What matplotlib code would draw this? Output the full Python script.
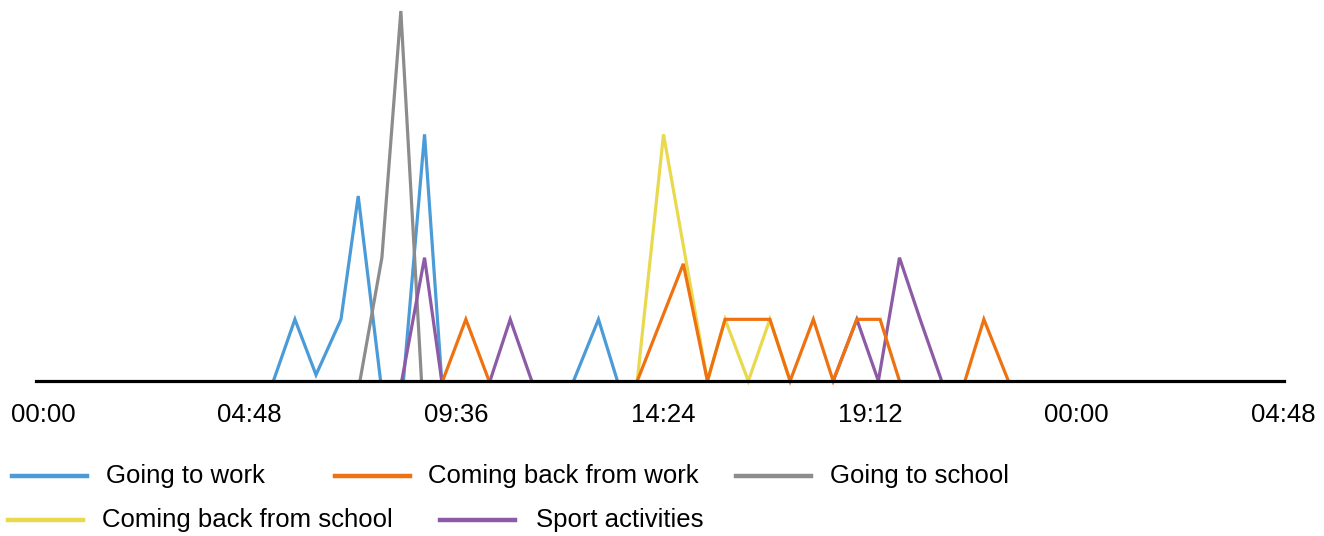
import matplotlib
matplotlib.use("Agg")
import matplotlib.pyplot as plt
from matplotlib.lines import Line2D
import numpy as np

plt.rcParams['font.family'] = ['Liberation Sans', 'DejaVu Sans']

# ---- data (time in hours, value) ----
work_t = [5.35, 5.85, 6.34, 6.92, 7.32, 7.84, 8.37, 8.86, 9.26, 12.32, 12.90, 13.34]
work_v = [0, 1, 0.1, 1, 3, 0, 0, 4, 0, 0, 1, 0]

back_work_t = [9.28, 9.82, 10.36, 13.80, 14.87, 15.43, 15.84, 16.88, 17.35, 17.89,
               18.35, 18.90, 19.44, 19.89, 21.41, 21.85, 22.42]
back_work_v = [0, 1, 0, 0, 1.9, 0, 1, 1, 0, 1, 0, 1, 1, 0, 0, 1, 0]

school_t = [7.36, 7.87, 8.31, 8.79]
school_v = [0, 2, 6, 0]

back_school_t = [13.80, 14.41, 15.43, 15.84, 16.38, 16.88, 17.35]
back_school_v = [0, 4, 0, 1, 0, 1, 0]

sport_t = [8.33, 8.86, 9.26, 10.38, 10.85, 11.35, 18.35, 18.90, 19.40, 19.89, 20.37, 20.87]
sport_v = [0, 2, 0, 0, 1, 0, 0, 1, 0, 2, 1, 0]

labels = ["Going to work", "Coming back from work", "Going to school",
          "Coming back from school", "Sport activities"]
tick_hours = [0, 4.8, 9.6, 14.4, 19.2, 24.0, 28.8]
tick_labels = ["00:00", "04:48", "09:36", "14:24", "19:12", "00:00", "04:48"]

colors = ["#4B9BD8", "#EF7211", "#8C8C8C", "#E8D94F", "#8D5BA6"]
series = [(work_t, work_v), (back_work_t, back_work_v), (school_t, school_v),
          (back_school_t, back_school_v), (sport_t, sport_v)]
zorders = [3, 7, 4, 5, 6]


def gapped(t, v):
    """Break the line where it runs along the zero baseline (hidden by the axis)."""
    xs, ys = [t[0]], [v[0]]
    for i in range(1, len(t)):
        if v[i] == 0 and v[i - 1] == 0:
            xs.append(np.nan)
            ys.append(np.nan)
        xs.append(t[i])
        ys.append(v[i])
    return xs, ys


W, H = 1324, 536
fig = plt.figure(figsize=(W / 100, H / 100), dpi=100)
ax = fig.add_axes([36 / W, 155 / H, (1284 - 36) / W, (381 - 11) / H])

for (t, v), c, z in zip(series, colors, zorders):
    xs, ys = gapped(t, v)
    ax.plot(xs, ys, color=c, lw=2.3, zorder=z, clip_on=False, solid_joinstyle='miter')

ax.set_xlim(-0.163, 28.82)
ax.set_ylim(0, 6)
for s in ["top", "right", "left", "bottom"]:
    ax.spines[s].set_visible(False)
ax.axhline(0, color="black", lw=2.3, zorder=10, clip_on=False)
ax.set_yticks([])
ax.set_xticks(tick_hours)
ax.set_xticklabels(tick_labels, fontsize=18.5)
ax.tick_params(axis='x', length=0, pad=16)

# legend (manual, Excel-like layout)
leg_pos = [(12, 476, 106), (335, 476, 428), (736, 476, 830), (8, 520, 102), (440, 520, 536)]
for (x0, y0, xt), c, lab in zip(leg_pos, colors, labels):
    fig.add_artist(Line2D([x0 / W, (x0 + 75) / W], [1 - y0 / H, 1 - y0 / H],
                          color=c, lw=3.2, transform=fig.transFigure))
    fig.text(xt / W, 1 - y0 / H, lab, fontsize=18.5, va='center', ha='left')

fig.savefig("out.png", dpi=100)
